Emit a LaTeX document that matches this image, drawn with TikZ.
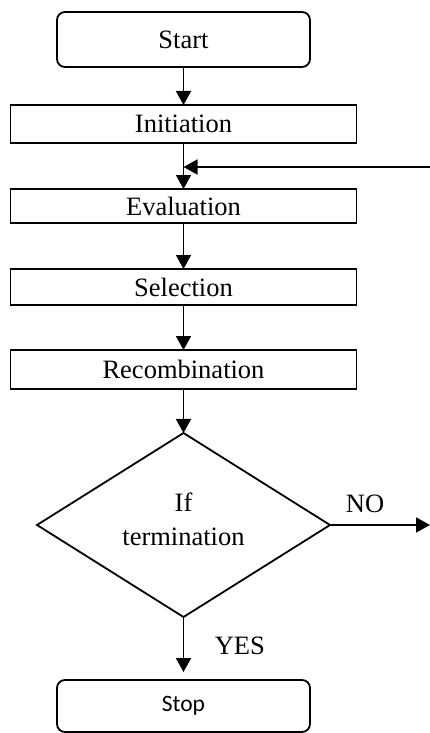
\documentclass[tikz,border=0pt]{standalone}
\usepackage{fontspec}
\setmainfont{Liberation Serif}
\newfontfamily\stopfont{Carlito}
\usetikzlibrary{positioning, shapes.geometric, arrows.meta}

\begin{document}
\begin{tikzpicture}[x=1pt, y=-1pt, >={Triangle[width=15pt,length=14pt]}, line width=1.8pt,
    every node/.style={align=center, outer sep=0pt, font=\fontsize{26.5}{34}\selectfont},
    endbox/.style={draw, rounded corners=8pt, minimum width=253pt, inner sep=0pt},
    procbox/.style={draw, minimum width=346pt, inner sep=0pt},
    decide/.style={draw, diamond, aspect=1.6, minimum width=293pt, minimum height=184pt, inner sep=0pt, text depth=11pt}]
    \useasboundingbox (0,0) rectangle (430,733);

    \node (start) [endbox, minimum height=55pt] at (183.5,39.5) {Start};
    \node (init) [procbox, minimum height=38pt, below=38pt of start] {Initiation};
    \node (eval) [procbox, minimum height=34pt, below=46pt of init] {Evaluation};
    \node (sel) [procbox, minimum height=36pt, below=46pt of eval] {Selection};
    \node (rec) [procbox, minimum height=39pt, below=45pt of sel] {Recombination};
    \node (check) [decide, below=44pt of rec] {If\\[0pt]termination};
    \node (stop) [endbox, minimum height=52pt, below=63pt of check, font=\stopfont\fontsize{23.5}{28}\selectfont] {Stop};

    % loop back and exit points
    \coordinate (loopin) at (430,167);
    \coordinate (loopjoin) at (init.south |- loopin);
    \coordinate (noend) at (check.east -| loopin);

    \draw[->] (start) -- (init);
    \draw[->] (init) -- (eval);
    \draw[->] (loopin) -- (loopjoin);
    \draw[->] (eval) -- (sel);
    \draw[->] (sel) -- (rec);
    \draw[->] (rec) -- (check);
    \draw[->] (check) -- node[above, pos=0.35, yshift=9pt]{NO} (noend);
    \draw[->, shorten >=8pt] (check) -- node[right, pos=0.45, xshift=28pt]{YES} (stop);
\end{tikzpicture}
\end{document}
